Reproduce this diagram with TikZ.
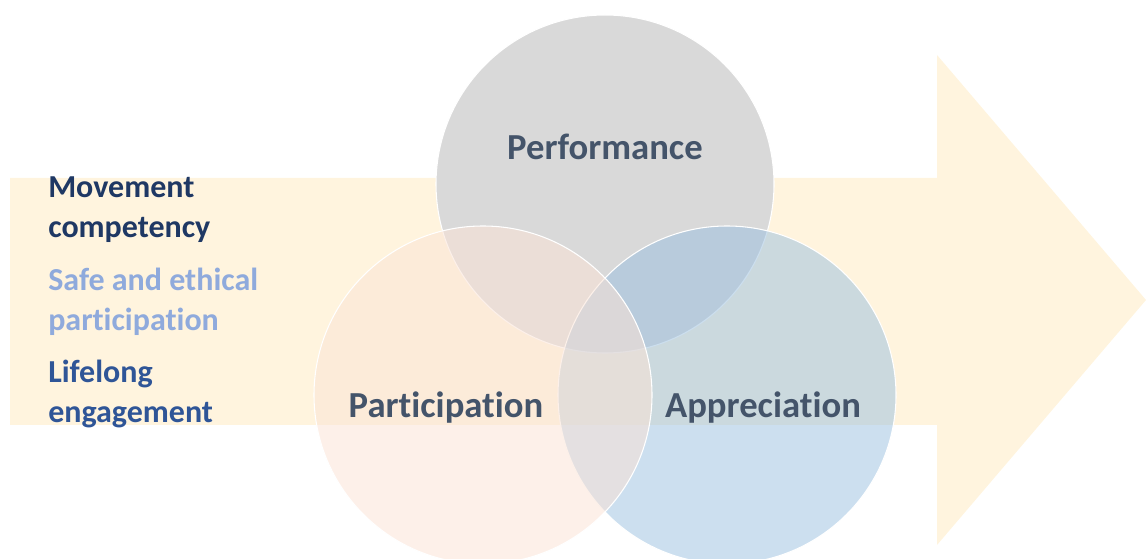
\documentclass[tikz,border=0pt]{standalone}
\usepackage{fontspec}
\setmainfont{Carlito}[Ligatures=NoCommon]
\usepackage{tikz}

\definecolor{arrowcream}{HTML}{FFF4DE}
\definecolor{perfgrey}{HTML}{D9D9D9}
\definecolor{partpeach}{HTML}{FBE3D6}
\definecolor{apprblue}{HTML}{99BFDF}
\definecolor{labelslate}{HTML}{44546A}
\definecolor{navy}{HTML}{1F3864}
\definecolor{paleblue}{HTML}{8FAADC}
\definecolor{midblue}{HTML}{2F5597}

\begin{document}
\begin{tikzpicture}[x=0.75pt, y=-0.75pt,
        ring/.style={circle, draw=white, line width=0.8pt, minimum size=253.5pt, inner sep=0pt},
        ringlabel/.style={text=labelslate, font=\fontsize{27.5}{32}\selectfont\bfseries, anchor=base},
        sidetext/.style={anchor=base west, align=left, inner sep=0pt, font=\fontsize{24}{30}\selectfont\bfseries}]
    \useasboundingbox (0,0) rectangle (1146,559);

    % the big arrow behind everything
    \fill[arrowcream] (10,178) -- (937,178) -- (937,55) -- (1146,300) -- (937,545) -- (937,425) -- (10,425) -- cycle;

    % the three circles
    \node[ring, fill=perfgrey] (perf) at (605,184) {};
    \node[ring, fill=apprblue, fill opacity=0.5] (appr) at (727,395) {};
    \node[ring, fill=partpeach, fill opacity=0.53] (part) at (483,395) {};

    \node[ringlabel] (perflabel) at (605,160) {Performance};
    \node[ringlabel] (partlabel) at (446,417) {Participation};
    \node[ringlabel] (apprlabel) at (763,417) {Appreciation};

    % outcomes on the left (anchored on the last line)
    \node[sidetext, text=navy] (movement) at (48,238) {Movement\\competency};
    \node[sidetext, text=paleblue] (safe) at (48,331) {Safe and ethical\\participation};
    \node[sidetext, text=midblue] (lifelong) at (48,422) {Lifelong\\engagement};
\end{tikzpicture}
\end{document}
